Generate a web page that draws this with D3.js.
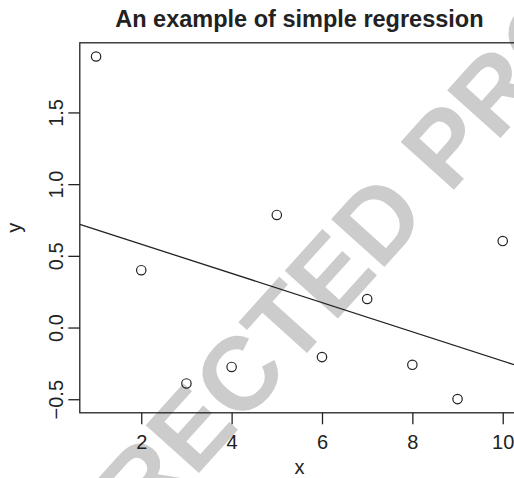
<!DOCTYPE html>
<html>
<head>
<meta charset="utf-8">
<script src="https://cdn.jsdelivr.net/npm/d3@7"></script>
<style>
  body { margin: 0; background: #fff; }
  text { font-family: "Liberation Sans", Arial, sans-serif; fill: #222; }
</style>
</head>
<body>
<div class="chart"></div>
<script>
const xValues = [1, 2, 3, 4, 5, 6, 7, 8, 9, 10];
const yValues = [1.89, 0.40, -0.39, -0.275, 0.785, -0.206, 0.199, -0.26, -0.499, 0.603];
const xTicks = [2, 4, 6, 8, 10];
const yTicks = [-0.5, 0, 0.5, 1, 1.5];

const width = 514;
const height = 478;
const plotLeft = 79.8, plotRight = 519, plotTop = 42.8, plotBottom = 412.8;

const svg = d3.select(".chart").append("svg")
  .attr("width", width)
  .attr("height", height);

// watermark behind the plot
svg.append("text")
  .attr("transform", "translate(343, 313) rotate(-48)")
  .attr("text-anchor", "middle")
  .style("font-size", "104px")
  .style("font-weight", "bold")
  .style("fill", "#cccccc")
  .text("CORRECTED PROOF");

// R style range: data extent padded by 4%
function pad(ext) {
  const d = (ext[1] - ext[0]) * 0.04;
  return [ext[0] - d, ext[1] + d];
}

const x = d3.scaleLinear().domain(pad(d3.extent(xValues))).range([plotLeft, plotRight]);
const y = d3.scaleLinear().domain(pad(d3.extent(yValues))).range([plotBottom, plotTop]);

svg.append("defs").append("clipPath").attr("id", "plotclip")
  .append("rect")
  .attr("x", plotLeft).attr("y", plotTop)
  .attr("width", plotRight - plotLeft).attr("height", plotBottom - plotTop);

// box
svg.append("rect")
  .attr("x", plotLeft).attr("y", plotTop)
  .attr("width", plotRight - plotLeft).attr("height", plotBottom - plotTop)
  .attr("fill", "none")
  .attr("stroke", "#222")
  .attr("stroke-width", 1.3);

// axes
const xAxis = svg.append("g")
  .attr("transform", `translate(0, ${plotBottom})`)
  .call(d3.axisBottom(x).tickValues(xTicks).tickSize(11.5).tickPadding(6).tickFormat(d3.format("d")));
xAxis.select(".domain").remove();

const yAxis = svg.append("g")
  .attr("transform", `translate(${plotLeft}, 0)`)
  .call(d3.axisLeft(y).tickValues(yTicks).tickSize(11.5).tickFormat(d3.format(".1f")));
yAxis.select(".domain").remove();

svg.selectAll(".tick line").attr("stroke", "#222").attr("stroke-width", 1.3);
svg.selectAll(".tick text")
  .style("font-size", "20px")
  .style("font-family", "'Liberation Sans', Arial, sans-serif")
  .attr("fill", "#222");

xAxis.selectAll(".tick text").attr("dy", null).attr("y", 36);

yAxis.selectAll(".tick text")
  .attr("x", null).attr("dy", null)
  .attr("text-anchor", "middle")
  .attr("transform", "translate(-17, 0) rotate(-90)");

// axis titles
svg.append("text")
  .attr("x", (plotLeft + plotRight) / 2)
  .attr("y", 474)
  .attr("text-anchor", "middle")
  .style("font-size", "20px")
  .text("x");

svg.append("text")
  .attr("transform", `translate(21, ${(plotTop + plotBottom) / 2}) rotate(-90)`)
  .attr("text-anchor", "middle")
  .style("font-size", "20px")
  .text("y");

// title
svg.append("text")
  .attr("x", (plotLeft + plotRight) / 2)
  .attr("y", 27)
  .attr("text-anchor", "middle")
  .style("font-size", "23.5px")
  .style("font-weight", "bold")
  .text("An example of simple regression");

// least squares fit
const mx = d3.mean(xValues), my = d3.mean(yValues);
const slope = d3.sum(xValues, (d, i) => (d - mx) * (yValues[i] - my)) /
  d3.sum(xValues, d => (d - mx) * (d - mx));
const intercept = my - slope * mx;
const [x0, x1] = x.domain();

svg.append("line")
  .attr("clip-path", "url(#plotclip)")
  .attr("x1", x(x0)).attr("y1", y(intercept + slope * x0))
  .attr("x2", x(x1)).attr("y2", y(intercept + slope * x1))
  .attr("stroke", "#222")
  .attr("stroke-width", 1.3);

svg.selectAll("circle")
  .data(xValues)
  .enter()
  .append("circle")
  .attr("cx", d => x(d))
  .attr("cy", (d, i) => y(yValues[i]))
  .attr("r", 4.7)
  .attr("fill", "none")
  .attr("stroke", "#222")
  .attr("stroke-width", 1.2);
</script>
</body>
</html>
